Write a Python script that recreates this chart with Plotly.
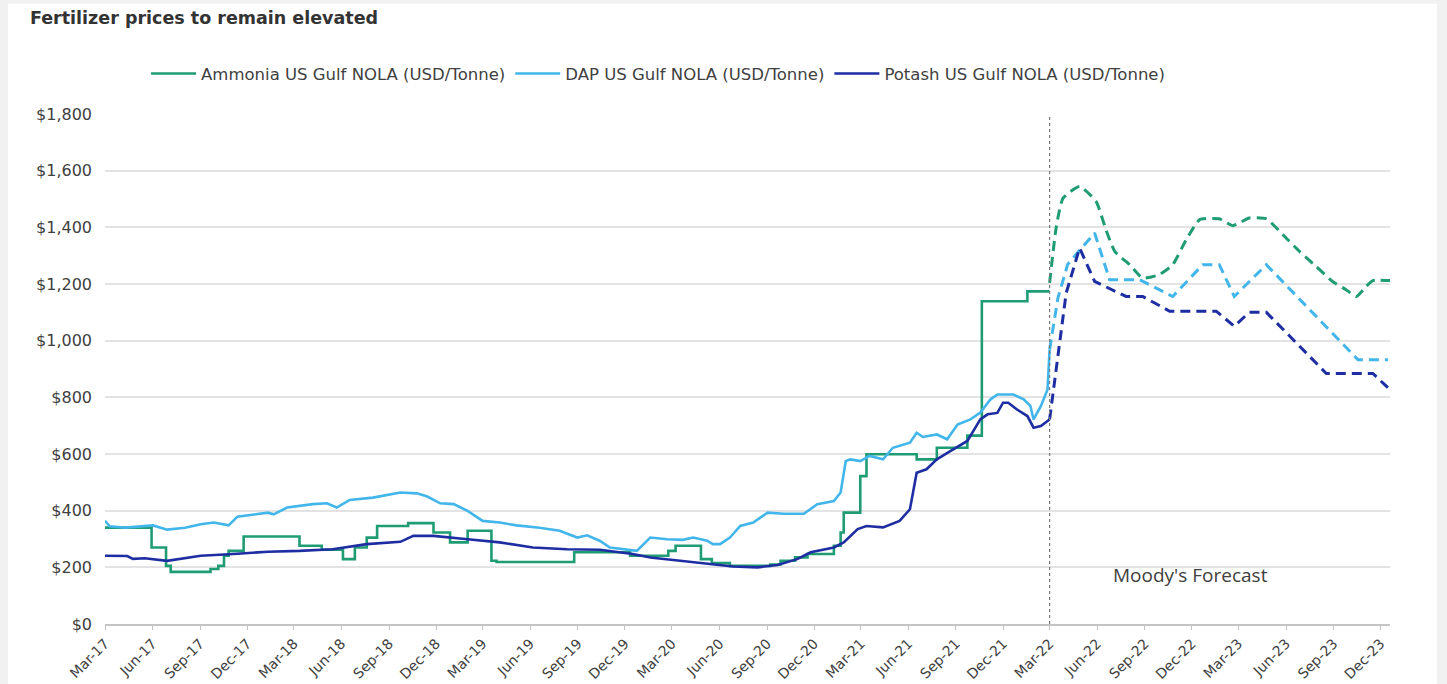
import plotly.graph_objects as go

# ---------------- data ----------------
ammonia_dates = ["2017-03-01", "2017-05-30", "2017-06-27", "2017-07-06", "2017-09-21", "2017-10-06",
                 "2017-10-17", "2017-10-26", "2017-11-24", "2018-03-12", "2018-04-24", "2018-06-04",
                 "2018-06-27", "2018-07-20", "2018-08-09", "2018-10-08", "2018-11-26", "2018-12-28",
                 "2019-01-31", "2019-03-18", "2019-03-28", "2019-08-25", "2019-12-11", "2020-02-23",
                 "2020-03-08", "2020-04-26", "2020-05-17", "2020-06-21", "2020-09-07", "2020-09-27",
                 "2020-10-25", "2020-11-18", "2021-01-08", "2021-01-21", "2021-01-27", "2021-02-28",
                 "2021-03-12", "2021-06-17", "2021-07-26", "2021-09-23", "2021-10-21", "2022-01-17",
                 "2022-03-01"]
ammonia_values = [340, 270, 205, 184, 194, 205,
                  241, 258, 309, 276, 262, 229,
                  270, 305, 346, 356, 323, 288,
                  329, 223, 219, 253, 241, 258,
                  276, 229, 215, 205, 210, 223,
                  235, 247, 276, 323, 393, 522,
                  599, 581, 622, 665, 1139, 1174,
                  1174]

dap_dates = ["2017-03-01", "2017-03-10", "2017-04-09", "2017-06-02", "2017-06-29", "2017-08-03",
             "2017-09-02", "2017-09-27", "2017-10-26", "2017-11-12", "2018-01-10", "2018-01-21",
             "2018-02-16", "2018-04-07", "2018-05-04", "2018-05-23", "2018-06-17", "2018-08-01",
             "2018-09-23", "2018-10-25", "2018-11-14", "2018-12-09", "2019-01-04", "2019-01-31",
             "2019-03-01", "2019-04-03", "2019-05-06", "2019-06-19", "2019-07-28", "2019-08-31",
             "2019-09-19", "2019-10-14", "2019-11-02", "2019-12-24", "2020-01-19", "2020-02-21",
             "2020-03-22", "2020-04-11", "2020-05-08", "2020-05-19", "2020-06-02", "2020-06-21",
             "2020-07-11", "2020-08-05", "2020-09-02", "2020-10-03", "2020-11-11", "2020-12-07",
             "2021-01-08", "2021-01-21", "2021-01-31", "2021-02-09", "2021-02-28", "2021-03-18",
             "2021-04-13", "2021-05-02", "2021-06-04", "2021-06-17", "2021-06-29", "2021-07-26",
             "2021-08-15", "2021-09-04", "2021-09-29", "2021-10-18", "2021-11-07", "2021-11-20",
             "2021-12-21", "2022-01-10", "2022-01-23", "2022-01-29", "2022-02-12", "2022-02-25",
             "2022-03-01"]
dap_values = [364, 345, 340, 348, 333, 340,
              352, 358, 348, 379, 393, 387,
              411, 423, 426, 411, 438, 446,
              464, 461, 450, 426, 423, 399,
              364, 358, 348, 340, 329, 305,
              313, 293, 270, 258, 305, 299,
              297, 305, 294, 282, 282, 305,
              346, 358, 393, 389, 389, 423,
              434, 464, 575, 581, 575, 593,
              581, 622, 640, 675, 660, 669,
              652, 704, 722, 746, 793, 810,
              810, 793, 769, 722, 769, 828,
              969]

potash_dates = ["2017-03-01", "2017-04-13", "2017-04-24", "2017-05-17", "2017-06-29", "2017-09-02",
                "2017-11-05", "2018-01-10", "2018-03-12", "2018-05-15", "2018-07-20", "2018-09-23",
                "2018-10-18", "2018-11-26", "2019-01-31", "2019-04-03", "2019-06-06", "2019-08-11",
                "2019-10-14", "2019-12-16", "2020-01-19", "2020-03-22", "2020-05-27", "2020-06-27",
                "2020-08-13", "2020-09-21", "2020-10-29", "2020-11-24", "2021-01-08", "2021-01-27",
                "2021-02-23", "2021-03-12", "2021-04-13", "2021-05-15", "2021-06-04", "2021-06-17",
                "2021-07-06", "2021-07-26", "2021-08-21", "2021-09-23", "2021-10-18", "2021-11-01",
                "2021-11-20", "2021-12-01", "2021-12-11", "2021-12-28", "2022-01-17", "2022-01-29",
                "2022-02-12", "2022-03-01"]
potash_values = [241, 240, 230, 232, 223, 241,
                 247, 255, 258, 264, 282, 290,
                 311, 311, 299, 288, 270, 264,
                 262, 247, 235, 223, 211, 203,
                 200, 208, 229, 253, 270, 288,
                 335, 346, 341, 364, 405, 534,
                 546, 581, 610, 646, 722, 740,
                 745, 781, 781, 757, 734, 693,
                 699, 722]

ammonia_fc_dates = ["2022-03-01", "2022-03-14", "2022-03-27", "2022-04-28", "2022-05-30", "2022-06-18",
                    "2022-07-05", "2022-08-03", "2022-08-28", "2022-09-29", "2022-10-25", "2022-11-20",
                    "2022-12-16", "2023-01-23", "2023-02-18", "2023-03-22", "2023-04-24", "2023-05-26",
                    "2023-06-27", "2023-07-29", "2023-08-30", "2023-09-25", "2023-10-15", "2023-11-03",
                    "2023-11-16", "2023-12-19"]
ammonia_fc_values = [1204, 1403, 1503, 1544, 1491, 1391,
                     1315, 1268, 1221, 1233, 1268, 1356,
                     1427, 1430, 1406, 1433, 1430, 1374,
                     1315, 1262, 1209, 1180, 1156, 1192,
                     1212, 1212]

dap_fc_dates = ["2022-03-01", "2022-03-17", "2022-04-05", "2022-05-27", "2022-06-25", "2022-08-22",
                "2022-10-25", "2022-12-22", "2023-01-23", "2023-02-21", "2023-04-24", "2023-10-18",
                "2023-12-15"]
dap_fc_values = [969, 1150, 1270, 1380, 1215, 1215,
                 1156, 1268, 1268, 1156, 1268, 933,
                 933]

potash_fc_dates = ["2022-03-01", "2022-03-17", "2022-04-02", "2022-04-28", "2022-05-27", "2022-07-27",
                   "2022-08-28", "2022-10-19", "2023-01-17", "2023-02-21", "2023-03-22", "2023-04-24",
                   "2023-08-18", "2023-11-16", "2023-12-15"]
potash_fc_values = [722, 944, 1168, 1327, 1209, 1156,
                    1156, 1104, 1104, 1051, 1100, 1100,
                    884, 884, 834]

series_names = ["Ammonia US Gulf NOLA (USD/Tonne)",
                "DAP US Gulf NOLA (USD/Tonne)",
                "Potash US Gulf NOLA (USD/Tonne)"]
series_colors = ["#1f9c74", "#42b6ea", "#1e2ea2"]

forecast_start = "2022-03-01"
forecast_label = "Moody's Forecast"
forecast_label_pos = ("2022-11-28", 174)
title_text = "Fertilizer prices to remain elevated"

# ---------------- figure ----------------
fig = go.Figure()

fig.add_trace(go.Scatter(x=ammonia_dates, y=ammonia_values, name=series_names[0], mode="lines",
                         line=dict(color=series_colors[0], width=2.6, shape="hv")))
fig.add_trace(go.Scatter(x=dap_dates, y=dap_values, name=series_names[1], mode="lines",
                         line=dict(color=series_colors[1], width=2.6)))
fig.add_trace(go.Scatter(x=potash_dates, y=potash_values, name=series_names[2], mode="lines",
                         line=dict(color=series_colors[2], width=2.6)))

fig.add_trace(go.Scatter(x=ammonia_fc_dates, y=ammonia_fc_values, mode="lines", showlegend=False,
                         line=dict(color=series_colors[0], width=3, dash="10px,6px",
                                   shape="spline", smoothing=0.5)))
fig.add_trace(go.Scatter(x=dap_fc_dates, y=dap_fc_values, mode="lines", showlegend=False,
                         line=dict(color=series_colors[1], width=3, dash="10px,6px")))
fig.add_trace(go.Scatter(x=potash_fc_dates, y=potash_fc_values, mode="lines", showlegend=False,
                         line=dict(color=series_colors[2], width=3, dash="10px,6px")))

# light frame around the card
fig.add_shape(type="rect", xref="paper", yref="paper", x0=-0.0755, x1=1.0366, y0=-0.3, y1=1.216,
              fillcolor="white", line=dict(width=0), layer="below")

# forecast divider
fig.add_shape(type="line", xref="x", yref="y", x0=forecast_start, x1=forecast_start, y0=0, y1=1800,
              line=dict(color="#7a7a7a", width=1.2, dash="dot"))

fig.add_annotation(x=forecast_label_pos[0], y=forecast_label_pos[1], xref="x", yref="y",
                   text=forecast_label, showarrow=False,
                   font=dict(family="Open Sans", size=19, color="#404040"))

fig.update_layout(
    width=1447, height=684, autosize=False,
    margin=dict(l=105, r=57, t=114, b=60, autoexpand=False),
    paper_bgcolor="#f1f1f1", plot_bgcolor="white",
    title=dict(text="<b>" + title_text + "</b>", x=30 / 1447, xanchor="left", xref="container",
               y=1 - 18 / 684, yanchor="middle", yref="container",
               font=dict(family="DejaVu Sans", size=17.5, color="#333333")),
    legend=dict(orientation="h", x=0.4304, xanchor="center", y=1.079, yanchor="middle",
                font=dict(family="DejaVu Sans", size=16.5, color="#404040"),
                bgcolor="rgba(0,0,0,0)", itemwidth=45, tracegroupgap=0),
    showlegend=True,
)

fig.update_xaxes(type="date", range=["2017-03-01", "2023-12-19"], tick0="2017-03-01", dtick="M3",
                 tickformat="%b-%y", tickangle=-45, showgrid=False, automargin=False,
                 showline=True, linecolor="#c4c4c4", linewidth=2,
                 ticks="outside", ticklen=4, tickcolor="#c4c4c4",
                 tickfont=dict(family="DejaVu Sans", size=14, color="#404040"))
fig.update_yaxes(range=[0, 1800], dtick=200, tickprefix="$", tickformat=",d", automargin=False,
                 showgrid=True, gridcolor="#e3e3e3", gridwidth=1.5, zeroline=False,
                 ticks="", ticklabelstandoff=12,
                 tickfont=dict(family="DejaVu Sans", size=16, color="#404040"))

fig.write_html("out.html", config={"displayModeBar": False},
               post_script="document.body.style.margin='0';document.body.style.overflow='hidden';")
